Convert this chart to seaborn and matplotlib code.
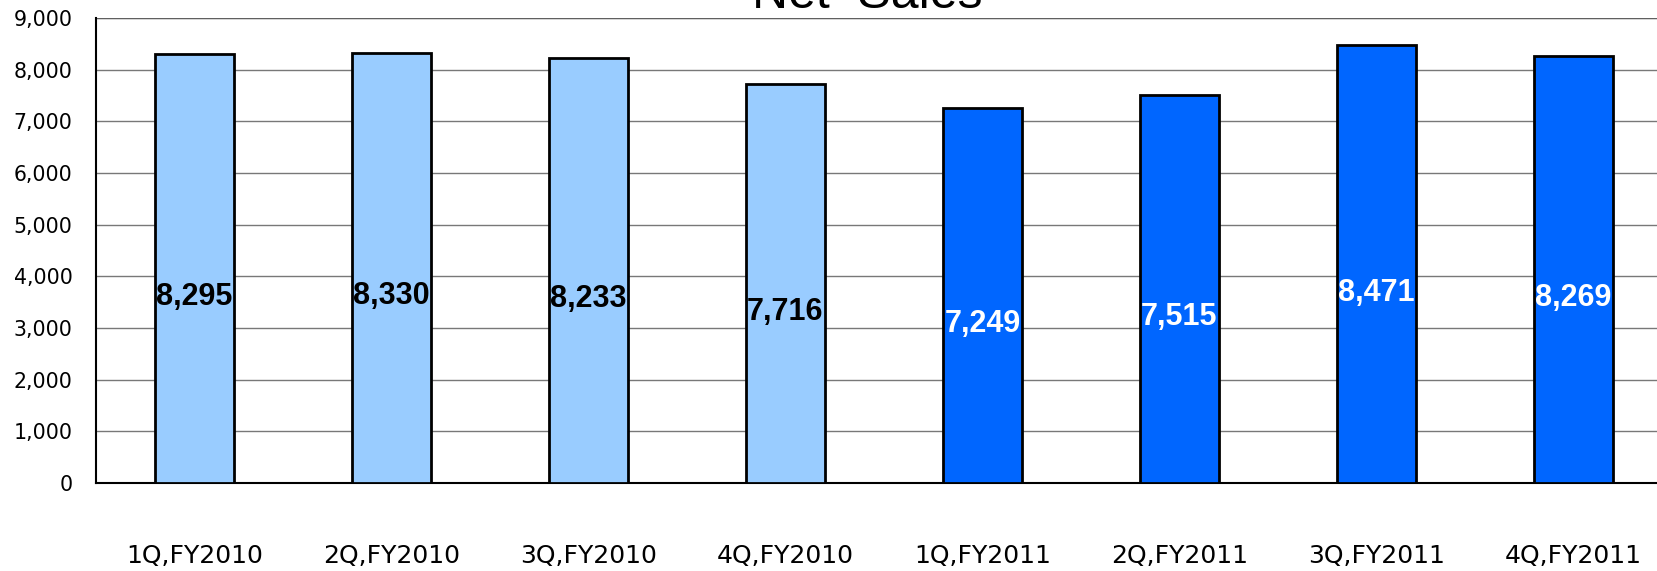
import matplotlib
matplotlib.use("Agg")
import matplotlib.pyplot as plt
import seaborn as sns
import numpy as np

categories = ["1Q,FY2010", "2Q,FY2010", "3Q,FY2010", "4Q,FY2010",
              "1Q,FY2011", "2Q,FY2011", "3Q,FY2011", "4Q,FY2011"]
net_sales = [8295, 8330, 8233, 7716, 7249, 7515, 8471, 8269]
bar_colors = ["#99CCFF"] * 4 + ["#0066FF"] * 4
label_colors = ["black"] * 4 + ["white"] * 4
title = "Net  Sales"

sns.set_style("white")
plt.rcParams['font.family'] = ['DejaVu Sans']
plt.rcParams['text.color'] = 'black'
plt.rcParams['xtick.color'] = 'black'
plt.rcParams['ytick.color'] = 'black'

fig = plt.figure(figsize=(16.57, 5.71), dpi=100)
ax = fig.add_axes([96/1657, 1 - 483/571, 1576/1657, (483 - 18)/571])

sns.barplot(x=categories, y=net_sales, hue=categories, palette=bar_colors,
            legend=False, width=0.4, edgecolor="black", linewidth=2.0,
            saturation=1, ax=ax, zorder=3)

ax.set_ylim(0, 9000)
ax.set_xlim(-0.5, 7.5)
ax.set_yticks(np.arange(0, 9001, 1000))
ax.set_yticklabels([f"{v:,}" for v in range(0, 9001, 1000)], fontsize=14.8)
ax.yaxis.grid(True, color="#787878", linewidth=1.0, zorder=0)
ax.set_axisbelow(True)
ax.axhline(9000, color="#606060", linewidth=1.6, zorder=1)
ax.tick_params(axis="y", length=0, pad=17, labelcolor="black")
ax.tick_params(axis="x", which="major", length=0, pad=44, labelsize=18, labelcolor="black")
ax.set_xticks(np.arange(0.5, 7.5, 1.0), minor=True)
ax.tick_params(axis="x", which="minor", direction="in", length=5, width=1, color="#606060")
ax.set_xlabel("")
ax.set_ylabel("")

for s in ["top", "right"]:
    ax.spines[s].set_visible(False)
for s in ["left", "bottom"]:
    ax.spines[s].set_color("black")
    ax.spines[s].set_linewidth(1.5)

for i, container in enumerate(ax.containers):
    texts = ax.bar_label(container, labels=[f"{net_sales[i]:,}"], label_type="center",
                         padding=0, fontsize=22, fontweight="bold",
                         color=label_colors[i], family=["Liberation Sans", "DejaVu Sans"])
    for t in texts:
        t.set_position((0, -20.5))

fig.text(867/1657, 1 - 8/571, title, ha="center", va="baseline", fontsize=36,
         family=["Liberation Sans", "DejaVu Sans"])

fig.savefig("out.png", dpi=100)
